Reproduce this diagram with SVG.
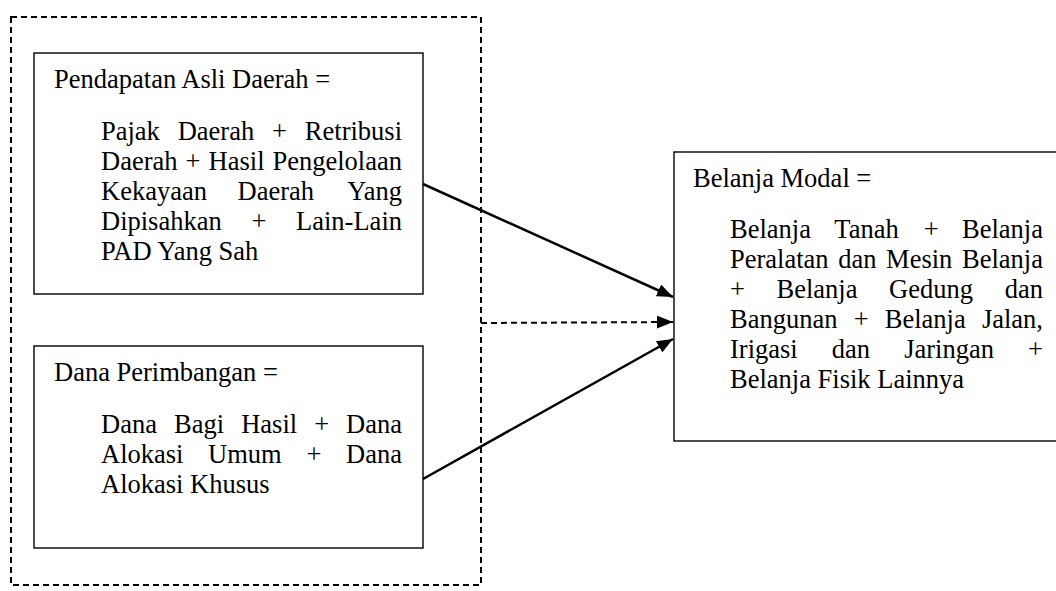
<svg xmlns="http://www.w3.org/2000/svg" width="1056" height="591" viewBox="0 0 1056 591">
<style>
text{font-family:'Liberation Serif','Tinos','DejaVu Serif',serif;font-size:26.5px;fill:#000}
.e{text-anchor:end}
.box{fill:#fff;stroke:#000;stroke-width:1.4}
.dash{fill:none;stroke:#000;stroke-width:2;stroke-dasharray:6 4}
.arr{fill:none;stroke:#000;stroke-width:2.5}
</style>
<defs>
<marker id="ah" viewBox="0 0 16 13" refX="16" refY="6.5" markerWidth="16" markerHeight="13" markerUnits="userSpaceOnUse" orient="auto">
<path d="M0,0 L16,6.5 L0,13 Z" fill="#000"/>
</marker>
</defs>
<rect width="1056" height="591" fill="#fff"/>
<g id="group-boundary">
<rect class="dash" x="11" y="17" width="470" height="568"/>
</g>
<g id="node-pad">
<rect class="box" x="34" y="53" width="389" height="241"/>
<text x="54" y="88">Pendapatan Asli Daerah =</text>
<text x="101" y="140">Pajak</text><text x="177.7" y="140">Daerah</text><text x="272.1" y="140">+</text><text class="e" x="402" y="140">Retribusi</text>
<text x="101" y="170">Daerah</text><text x="185.6" y="170">+</text><text x="208.6" y="170">Hasil</text><text class="e" x="402" y="170">Pengelolaan</text>
<text x="101" y="200">Kekayaan</text><text x="237.5" y="200">Daerah</text><text class="e" x="402" y="200">Yang</text>
<text x="101" y="230">Dipisahkan</text><text x="251.4" y="230">+</text><text class="e" x="402" y="230">Lain-Lain</text>
<text x="101" y="260">PAD Yang Sah</text>
</g>
<g id="node-dp">
<rect class="box" x="34" y="346" width="389" height="202"/>
<text x="54" y="381">Dana Perimbangan =</text>
<text x="101" y="433">Dana</text><text x="174" y="433">Bagi</text><text x="241.2" y="433">Hasil</text><text x="314.2" y="433">+</text><text class="e" x="402" y="433">Dana</text>
<text x="101" y="463">Alokasi</text><text x="208.1" y="463">Umum</text><text x="306.4" y="463">+</text><text class="e" x="402" y="463">Dana</text>
<text x="101" y="493">Alokasi Khusus</text>
</g>
<g id="node-bm">
<rect class="box" x="674" y="152" width="400" height="289"/>
<text x="693" y="187">Belanja Modal =</text>
<text x="730" y="238">Belanja</text><text x="834.3" y="238">Tanah</text><text x="923.8" y="238">+</text><text class="e" x="1043" y="238">Belanja</text>
<text x="730" y="268">Peralatan</text><text x="838.2" y="268">dan</text><text x="886.1" y="268">Mesin</text><text class="e" x="1043" y="268">Belanja</text>
<text x="730" y="298">+</text><text x="776.5" y="298">Belanja</text><text x="889.1" y="298">Gedung</text><text class="e" x="1043" y="298">dan</text>
<text x="730" y="328">Bangunan</text><text x="853.7" y="328">+</text><text x="884.8" y="328">Belanja</text><text class="e" x="1043" y="328">Jalan,</text>
<text x="730" y="358">Irigasi</text><text x="831.8" y="358">dan</text><text x="904.2" y="358">Jaringan</text><text class="e" x="1043" y="358">+</text>
<text x="730" y="388">Belanja Fisik Lainnya</text>
</g>
<g id="connectors">
<line class="arr" x1="423" y1="184" x2="673" y2="297" marker-end="url(#ah)"/>
<line class="dash" x1="481" y1="323" x2="673" y2="322" marker-end="url(#ah)"/>
<line class="arr" x1="423" y1="479" x2="673" y2="339" marker-end="url(#ah)"/>
</g>
</svg>
